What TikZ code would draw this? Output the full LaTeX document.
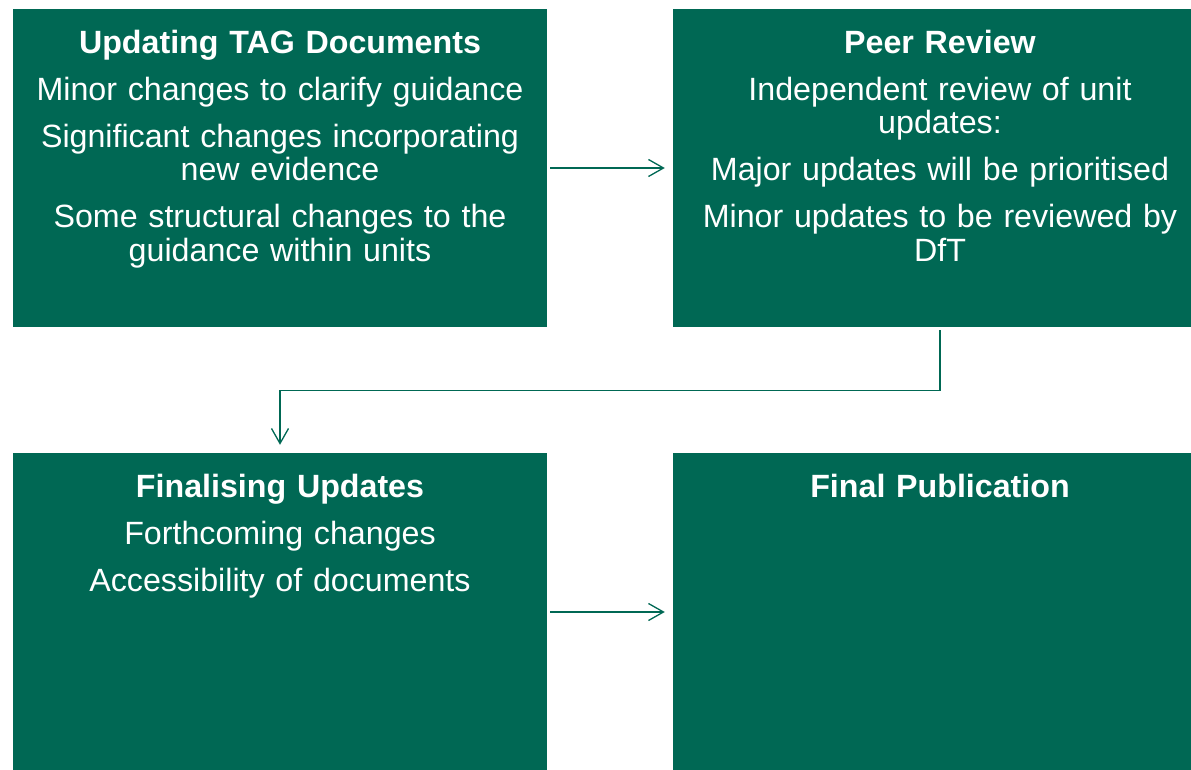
\documentclass[tikz,border=0pt]{standalone}
\usepackage{fontspec}
\setmainfont{Liberation Sans}
\usetikzlibrary{arrows.meta,positioning}
\definecolor{tagGreen}{RGB}{0,104,84}

\tikzset{
  stage/.style={fill=tagGreen, draw=none, minimum width=534pt, minimum height=318pt, inner sep=0pt},
  stagetext/.style={text=white, text width=534pt, align=center, anchor=base, inner sep=0pt,
    font=\fontsize{32.2}{33.5}\selectfont},
  flow/.style={draw=tagGreen, line width=1.3pt, -{Straight Barb[length=15pt,width=17pt]}}
}

\begin{document}
\begin{tikzpicture}[x=1pt,y=-1pt]
\useasboundingbox (0,0) rectangle (1191,770);
\clip (0,0) rectangle (1191,770);

% the four stages
\node[stage] (tag) at (280,168) {};
\node[stage] (review) at (940,168) {};
\node[stage] (final) at (280,612) {};
\node[stage] (publish) at (940,612) {};

\node[stagetext] (tagtxt) at (280,53.2) {\textbf{Updating TAG Documents}\\[13.5pt]
  Minor changes to clarify guidance\\[13.5pt]
  Significant changes incorporating\\ new evidence\\[13.5pt]
  Some structural changes to the\\ guidance within units};
\node[stagetext] (reviewtxt) at (940,53.2) {\textbf{Peer Review}\\[13.5pt]
  Independent review of unit\\ updates:\\[13.5pt]
  Major updates will be prioritised\\[13.5pt]
  Minor updates to be reviewed by\\ DfT};
\node[stagetext] (finaltxt) at (280,497.2) {\textbf{Finalising Updates}\\[13.5pt]
  Forthcoming changes\\[13.5pt]
  Accessibility of documents};
\node[stagetext] (publishtxt) at (940,497.2) {\textbf{Final Publication}};

% connectors
\draw[flow, shorten <=3pt, shorten >=8pt] (tag) -- (review);
\draw[flow, shorten <=3pt, shorten >=8pt] (review.south) -- ++(0,63) -| (final.north);
\draw[flow, shorten <=3pt, shorten >=8pt] (final) -- (publish);

\end{tikzpicture}
\end{document}
